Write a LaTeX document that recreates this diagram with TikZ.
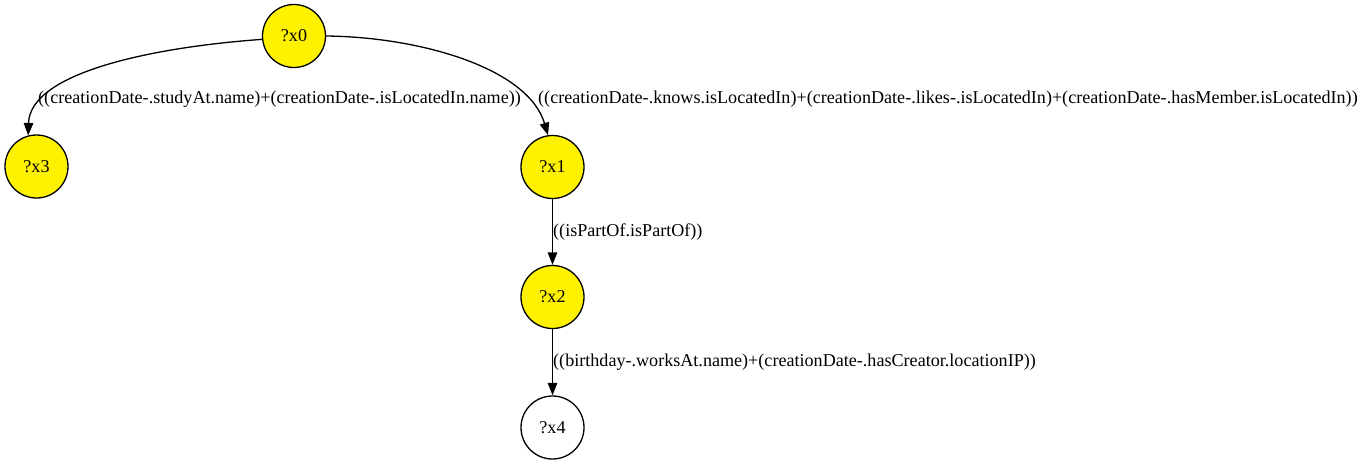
\documentclass[tikz,border=0pt]{standalone}
\usepackage{fontspec}
\setmainfont{Liberation Serif}
\usetikzlibrary{arrows.meta}
\tikzset{
  vnode/.style={circle, draw=black, line width=1.3pt, minimum size=63pt, inner sep=0pt, font=\fontsize{18.1}{21}\selectfont},
  hit/.style={vnode, fill=yellow},
  edge/.style={line width=1.3pt, -{Triangle[length=12.5pt,width=9.5pt]}},
  elabel/.style={anchor=base west, inner sep=0pt, font=\fontsize{18.1}{21}\selectfont}
}
\begin{document}
\begin{tikzpicture}[x=1pt,y=-1pt]
\useasboundingbox (0,0) rectangle (1367,464);
\node[hit] (x0) at (294,36) {?x0};
\node[hit] (x3) at (36.5,166.5) {?x3};
\node[hit] (x1) at (552.5,167) {?x1};
\node[hit] (x2) at (552.5,297) {?x2};
\node[vnode] (x4) at (552.5,427.5) {?x4};
\draw[edge] (x0.186) .. controls (155,47) and (30,72) .. (x3.105);
\draw[edge] (x0.east) .. controls (420,37) and (528,68) .. (x1.98);
\draw[edge] (x1) -- (x2);
\draw[edge] (x2) -- (x4);
\node[elabel] (l03) at (38,103.5) {((creationDate-.studyAt.name)+(creationDate-.isLocatedIn.name))};
\node[elabel] (l01) at (538,103.5) {((creationDate-.knows.isLocatedIn)+(creationDate-.likes-.isLocatedIn)+(creationDate-.hasMember.isLocatedIn))};
\node[elabel] (l12) at (553,236) {((isPartOf.isPartOf))};
\node[elabel] (l24) at (553,366) {((birthday-.worksAt.name)+(creationDate-.hasCreator.locationIP))};
\end{tikzpicture}
\end{document}
